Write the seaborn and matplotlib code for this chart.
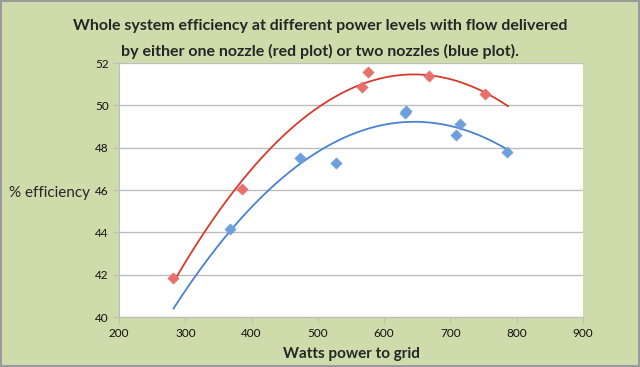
import numpy as np
import pandas as pd
import seaborn as sns
import matplotlib.pyplot as plt

# one nozzle (red) readings
red_watts = [282, 386, 567, 576, 668, 752]
red_eff = [41.85, 46.05, 50.85, 51.6, 51.4, 50.52]

# two nozzles (blue) readings
blue_watts = [367, 473, 528, 632, 633, 708, 715, 786]
blue_eff = [44.16, 47.5, 47.3, 49.62, 49.75, 48.6, 49.1, 47.78]

x_ticks = [200, 300, 400, 500, 600, 700, 800, 900]
y_ticks = [40, 42, 44, 46, 48, 50, 52]
trend_start, trend_end = 282, 787

bg = "#CEDBAA"
sns.set_style("white")
plt.rcParams["font.family"] = ["Lato", "DejaVu Sans"]

fig = plt.figure(figsize=(6.4, 3.67), dpi=100)
fig.patch.set_facecolor(bg)
fig.patch.set_edgecolor("#9a9a9a")
fig.patch.set_linewidth(1.5)
ax = fig.add_axes([0.186, 0.136, 0.725, 0.692])
ax.set_facecolor("white")

red = pd.DataFrame({"watts": red_watts, "eff": red_eff})
blue = pd.DataFrame({"watts": blue_watts, "eff": blue_eff})

# second order trendlines like the spreadsheet
xs = np.linspace(trend_start, trend_end, 200)
for df, line_col, pt_col in [(red, "#D93A2B", "#E8706C"), (blue, "#4A80D6", "#6E9FDC")]:
    coef = np.polyfit(df.watts, df.eff, 2)
    fit = pd.DataFrame({"watts": xs, "eff": np.polyval(coef, xs)})
    sns.lineplot(data=fit, x="watts", y="eff", color=line_col, lw=1.3, ax=ax, zorder=2)
    sns.scatterplot(data=df, x="watts", y="eff", marker="D", s=32, color=pt_col,
                    edgecolor=pt_col, linewidth=0.5, ax=ax, zorder=3)

ax.set_xlim(200, 900)
ax.set_ylim(40, 52)
ax.set_xticks(x_ticks)
ax.set_yticks(y_ticks)
ax.yaxis.grid(True, color="#BDBDBD", lw=1)
ax.xaxis.grid(False)
for s in ["top", "right"]:
    ax.spines[s].set_visible(False)
for s in ["left", "bottom"]:
    ax.spines[s].set_color("#BDBDBD")
ax.tick_params(axis="both", length=4, color="#BDBDBD", labelsize=8.5, direction="out",
               bottom=True, left=True, labelcolor="#111111")

ax.set_xlabel("Watts power to grid", fontsize=11, fontweight="bold", labelpad=6)
ax.set_ylabel("")
fig.text(0.141, 0.474, "% efficiency", ha="right", va="center", fontsize=11)

fig.text(0.5, 0.929, "Whole system efficiency at different power levels with flow delivered",
         ha="center", va="center", fontsize=11.5, fontweight="bold")
fig.text(0.5, 0.861, "by either one nozzle (red plot) or two nozzles (blue plot).",
         ha="center", va="center", fontsize=11.5, fontweight="bold")

fig.savefig("out.png", dpi=100, facecolor=bg, edgecolor=fig.patch.get_edgecolor())
